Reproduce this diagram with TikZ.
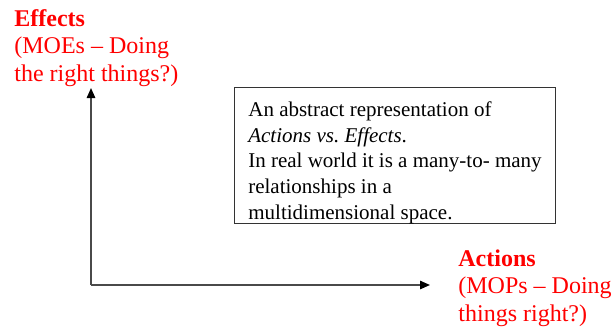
\documentclass[tikz,border=0pt]{standalone}
\usepackage{fontspec}
\setmainfont{Liberation Serif}
\usepackage{xcolor}
\usetikzlibrary{arrows.meta}
\definecolor{hilite}{HTML}{FF0000}
\definecolor{axisgray}{HTML}{4A4A4A}
\frenchspacing

\begin{document}
\begin{tikzpicture}[x=0.5pt, y=-0.5pt,
      axis/.style={draw=axisgray, line width=0.8pt, -{Triangle[length=5pt, width=4.2pt, color=black]}},
      tag/.style={text=hilite, font=\fontsize{12}{13.75}\selectfont, align=left, inner sep=0pt, anchor=base west},
      note/.style={draw=black!80, line width=0.5pt, anchor=north west, inner xsep=5pt, inner ysep=0pt,
                   minimum width=160.5pt, align=left, font=\fontsize{10.5}{12.9}\selectfont}]
    \useasboundingbox (0,0) rectangle (614,332);
    % axes
    \coordinate (origin) at (91,285);
    \coordinate (ytip) at (91,88);
    \coordinate (xtip) at (430,285);
    \draw[axis] (origin) -- (ytip);
    \draw[axis] (origin) -- (xtip);
    % axis labels (anchored on the last baseline)
    \node[tag] (effects) at (14,81) {\textbf{Effects}\\(MOEs -- Doing\\the right things?)};
    \node[tag] (actions) at (458,321) {\textbf{Actions}\\(MOPs -- Doing\\things right?)};
    % remark
    \node[note] (remark) at (234,87) {\rule{0pt}{14.4pt}An abstract representation of\\
      \textit{Actions vs. Effects}.\\
      In real world it is a many-to- many\\
      relationships in a\\
      multidimensional space.};
  \end{tikzpicture}
\end{document}
